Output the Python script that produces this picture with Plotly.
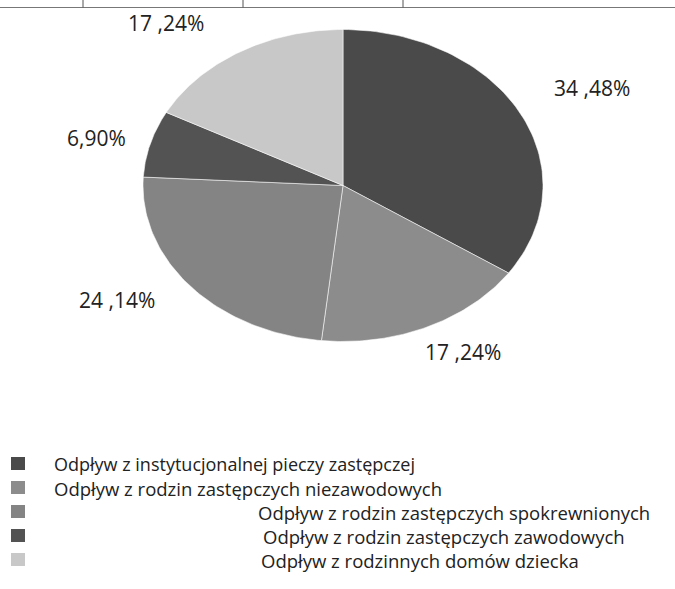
import numpy as np
import plotly.graph_objects as go

categories = [
    "Odpływ z instytucjonalnej pieczy zastępczej",
    "Odpływ z rodzin zastępczych niezawodowych",
    "Odpływ z rodzin zastępczych spokrewnionych",
    "Odpływ z rodzin zastępczych zawodowych",
    "Odpływ z rodzinnych domów dziecka",
]
values = [34.48, 17.24, 24.14, 6.90, 17.24]
label_texts = ["34 ,48%", "17 ,24%", "24 ,14%", "6,90%", "17 ,24%"]
colors = ["#4a4a4a", "#8c8c8c", "#848484", "#535353", "#c8c8c8"]

# layout parameters (screen-pixel coordinate system)
W, H = 675, 589
cx, cy, ra, rb = 343, 185.5, 200, 156
label_pos = [(592, 88), (463, 352), (117, 300), (96, 138), (166, 23)]
legend_text_x = [53, 53, 257, 262, 260]
legend_text_y = [464, 488, 512, 536, 560]
legend_font = [18, 18.5, 18.5, 18.5, 18.5]
FONT = "Open Sans"

fig = go.Figure()

total = sum(values)
start = 0.0
for cat, v, col in zip(categories, values, colors):
    end = start + v / total * 2 * np.pi
    th = np.linspace(start, end, 80)
    xs = np.concatenate([[cx], cx + ra * np.sin(th), [cx]])
    ys = np.concatenate([[cy], cy - rb * np.cos(th), [cy]])
    fig.add_trace(go.Scatter(
        x=xs, y=ys, mode="lines", fill="toself", fillcolor=col,
        line=dict(color="rgba(255,255,255,0.55)", width=1),
        name=cat, hoverinfo="name", showlegend=False,
    ))
    start = end

for (lx, ly), t in zip(label_pos, label_texts):
    fig.add_annotation(x=lx, y=ly, text=t, showarrow=False,
                       font=dict(family=FONT, size=21, color="#222"),
                       xanchor="center", yanchor="middle")

shapes = []
for i, (cat, col) in enumerate(zip(categories, colors)):
    y = legend_text_y[i]
    shapes.append(dict(type="rect", xref="x", yref="y", x0=11, x1=25,
                       y0=y - 7, y1=y + 6, fillcolor=col, line=dict(width=0)))
    fig.add_annotation(x=legend_text_x[i], y=y, text=cat, showarrow=False,
                       xanchor="left", yanchor="middle", borderpad=0,
                       font=dict(family=FONT, size=legend_font[i], color="#222"))

# table border remnant at the top of the scan
shapes.append(dict(type="line", xref="x", yref="y", x0=0, x1=W, y0=7.5, y1=7.5,
                   line=dict(color="#777", width=1)))
for tx in [83, 243, 403]:
    shapes.append(dict(type="line", xref="x", yref="y", x0=tx, x1=tx, y0=0, y1=7.5,
                       line=dict(color="#555", width=1)))

fig.update_layout(
    width=W, height=H, margin=dict(l=0, r=0, t=0, b=0),
    paper_bgcolor="white", plot_bgcolor="white",
    xaxis=dict(range=[0, W], visible=False, fixedrange=True),
    yaxis=dict(range=[H, 0], visible=False, fixedrange=True),
    shapes=shapes, showlegend=False,
)

fig.write_html("out.html", config={"displayModeBar": False},
               post_script="document.body.style.margin='0px';")
